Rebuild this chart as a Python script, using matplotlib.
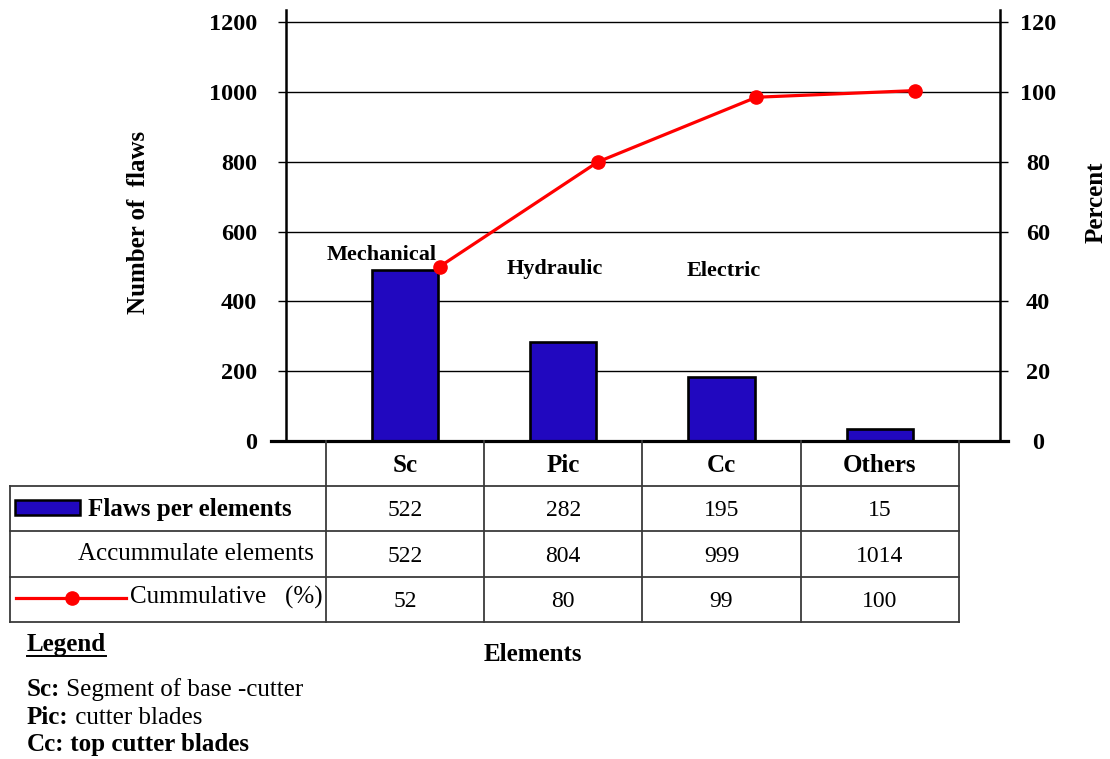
import matplotlib
matplotlib.use("Agg")
import matplotlib.pyplot as plt
import matplotlib.transforms as mtransforms
from matplotlib.patches import Rectangle
import numpy as np

# ---------------- data ----------------
categories = ["Sc", "Pic", "Cc", "Others"]
group_labels = ["Mechanical", "Hydraulic", "Electric"]
flaws_bar = [490, 283, 183, 34]            # bar heights as drawn
cumulative_pct = [50, 80, 98.5, 100.4]     # cumulative line as drawn
flaws_table = ["522", "282", "195", "15"]
accum_table = ["522", "804", "999", "1014"]
cum_table = ["52", "80", "99", "100"]
left_ticks = [0, 200, 400, 600, 800, 1000, 1200]
right_ticks = [0, 20, 40, 60, 80, 100, 120]
row_labels = ["Flaws per elements", "Accummulate elements", "Cummulative   (%)"]
legend_items = [("Sc:", " Segment of base -cutter", False),
                ("Pic:", " cutter blades", False),
                ("Cc:", " top cutter blades", True)]

# ---------------- style ----------------
W, H = 1110, 759
plt.rcParams['font.family'] = ['Liberation Serif', 'DejaVu Serif']
BAR_COLOR = '#2108BF'
LINE_COLOR = '#FF0000'
TABLE_COLOR = '#3a3a3a'

fig = plt.figure(figsize=(W / 100, H / 100), dpi=100)
px = mtransforms.Affine2D().scale(1.0 / W, -1.0 / H).translate(0, 1) + fig.transFigure

ax = fig.add_axes([286 / W, 1 - 441 / H, 714 / W, 431 / H])
x = np.arange(len(categories))
ax.set_xlim(-0.752, 3.76)
ax.set_ylim(0, 1235)
ax.set_axisbelow(True)
ax.yaxis.grid(True, color='black', linewidth=1.0)
ax.bar(x, flaws_bar, width=0.42, color=BAR_COLOR, edgecolor='black',
       linewidth=1.9, zorder=3)

for s in ['top', 'right', 'bottom']:
    ax.spines[s].set_visible(False)
ax.spines['left'].set_linewidth(1.8)
ax.axhline(0, xmin=-0.021, xmax=1.011, color='black', linewidth=2.3,
           clip_on=False, zorder=5)
ax.tick_params(axis='x', bottom=False, labelbottom=False)
ax.set_yticks(left_ticks)
ax.set_yticklabels([str(t) for t in left_ticks], fontsize=17.5,
                   fontweight='bold')
ax.tick_params(axis='y', direction='out', length=5.8, width=1.0,
               color='black', pad=15)

ax2 = ax.twinx()
ax2.set_ylim(0, 123.5)
for s in ['top', 'left', 'bottom']:
    ax2.spines[s].set_visible(False)
ax2.spines['right'].set_linewidth(1.8)
ax2.set_yticks(right_ticks)
ax2.set_yticklabels([str(t) for t in right_ticks], fontsize=17.5,
                    fontweight='bold', ha='center')
ax2.tick_params(axis='y', direction='out', length=5.8, width=1.0,
                color='black', pad=21.5)
ax2.plot(x + 0.22, cumulative_pct, color=LINE_COLOR, linewidth=2.3,
         marker='o', markersize=9.5, zorder=4)

# group annotations (x offset from category, baseline value)
group_pos = [(-0.15, 519), (0.945, 479), (2.016, 473)]
for lab, (xo, yv) in zip(group_labels, group_pos):
    ax.text(xo, yv, lab, ha='center', va='baseline', fontsize=16,
            fontweight='bold', zorder=6)

# axis titles
fig.text(138.5, 222, "Number of  flaws", transform=px, rotation=90,
         ha='center', va='center', fontsize=18, fontweight='bold')
fig.text(1096.5, 202, "Percent", transform=px, rotation=90,
         ha='center', va='center', fontsize=18, fontweight='bold')

# ---------------- table ----------------
col_px = [ax.transData.transform((i - 0.5, 0))[0] for i in range(len(categories) + 1)]
cen_px = [ax.transData.transform((i, 0))[0] for i in range(len(categories))]
top_y, row_h = 441, 45.2
rows_y = [top_y + k * row_h for k in range(5)]

tk = dict(color=TABLE_COLOR, linewidth=1.3, transform=px, clip_on=False)
for yk in rows_y[1:]:
    fig.add_artist(plt.Line2D([10, col_px[-1]], [yk, yk], **tk))
for xc in col_px:
    fig.add_artist(plt.Line2D([xc, xc], [rows_y[0], rows_y[-1]], **tk))
fig.add_artist(plt.Line2D([10, 10], [rows_y[1], rows_y[-1]], **tk))

# header
for cx, cat in zip(cen_px, categories):
    fig.text(cx, rows_y[0] + 31, cat, transform=px, ha='center',
             va='baseline', fontsize=18, fontweight='bold')
# values
for r, vals in enumerate([flaws_table, accum_table, cum_table]):
    base = rows_y[r + 1] + row_h / 2 + 7.5
    for cx, v in zip(cen_px, vals):
        fig.text(cx, base, v, transform=px, ha='center', va='baseline',
                 fontsize=17)

# row labels with legend keys
fig.add_artist(Rectangle((15, 500), 65, 15, facecolor=BAR_COLOR,
                         edgecolor='black', linewidth=1.8, transform=px))
fig.text(88, 516, row_labels[0], transform=px, ha='left', va='baseline',
         fontsize=18, fontweight='bold')
fig.text(78, 560, row_labels[1], transform=px, ha='left', va='baseline',
         fontsize=18)
fig.add_artist(plt.Line2D([16, 126], [598, 598], color=LINE_COLOR,
                          linewidth=2.3, transform=px))
fig.add_artist(plt.Line2D([72], [598], color=LINE_COLOR, marker='o',
                          markersize=9.5, linestyle='none', transform=px))
fig.text(130, 604, row_labels[2], transform=px, ha='left', va='baseline',
         fontsize=18)

# x title
fig.text(533, 661, "Elements", transform=px, ha='center', va='baseline',
         fontsize=18, fontweight='bold')

# ---------------- legend text ----------------
renderer = fig.canvas.get_renderer()
lg = fig.text(27, 651, "Legend", transform=px, ha='left', va='baseline',
              fontsize=18, fontweight='bold')
bb = lg.get_window_extent(renderer)
fig.add_artist(plt.Line2D([bb.x0, bb.x1], [656, 656], color='black',
                          linewidth=1.4, transform=px))
for k, (key, desc, bold) in enumerate(legend_items):
    yb = 696 + k * 27.5
    t = fig.text(27, yb, key, transform=px, ha='left', va='baseline',
                 fontsize=18, fontweight='bold')
    b = t.get_window_extent(renderer)
    fig.text(b.x1, yb, desc, transform=px, ha='left', va='baseline',
             fontsize=18, fontweight='bold' if bold else 'normal')

fig.savefig("out.png", dpi=100)
